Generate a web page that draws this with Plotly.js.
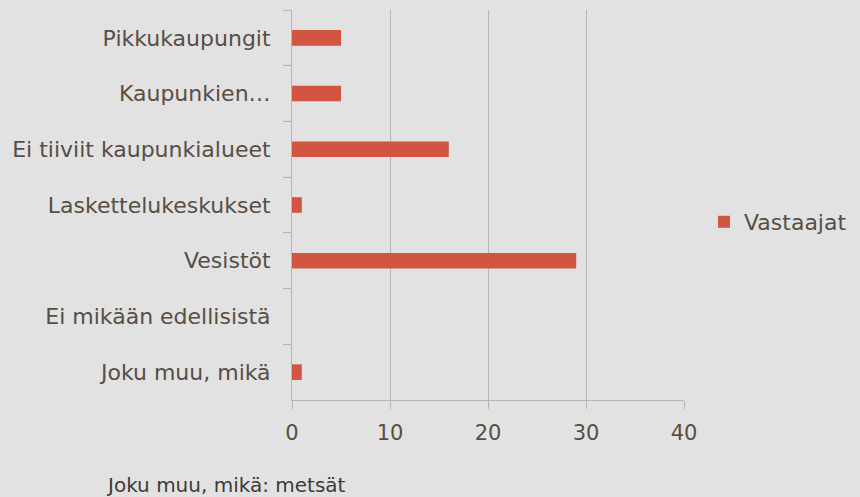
<!DOCTYPE html>
<html>
<head>
<meta charset="utf-8">
<script src="https://cdn.plot.ly/plotly-3.0.1.min.js"></script>
<style>html,body{margin:0;padding:0;background:#e2e2e2;}#chart{width:860px;height:497px;}</style>
</head>
<body>
<div id="chart"></div>
<script>
const categories = ["Pikkukaupungit", "Kaupunkien…", "Ei tiiviit kaupunkialueet", "Laskettelukeskukset", "Vesistöt", "Ei mikään edellisistä", "Joku muu, mikä"];
const vastaajat = [5, 5, 16, 1, 29, 0, 1];
const seriesName = "Vastaajat";
const xTicks = [0, 10, 20, 30, 40];
const note = "Joku muu, mikä: metsät";

const textColor = "#574e45";
const gridColor = "#b5b5b5";

const data = [{
  type: "bar",
  orientation: "h",
  y: categories,
  x: vastaajat,
  name: seriesName,
  marker: {color: "#d15541"},
  showlegend: true,
  hoverinfo: "x+y"
}];

const layout = {
  width: 860, height: 497,
  paper_bgcolor: "#e2e2e2",
  plot_bgcolor: "rgba(0,0,0,0)",
  margin: {l: 292, r: 176, t: 10, b: 97},
  font: {family: "DejaVu Sans, sans-serif", color: textColor, size: 22},
  bargap: 0.72,
  xaxis: {
    range: [0, 40],
    tickvals: xTicks,
    ticktext: xTicks.map(String),
    showgrid: true, gridcolor: gridColor, gridwidth: 1,
    zeroline: false,
    showline: true, linecolor: gridColor, linewidth: 1,
    ticks: "outside", ticklen: 8, tickcolor: gridColor,
    tickfont: {size: 21, color: textColor},
    ticklabelstandoff: 6,
    automargin: false,
    fixedrange: true
  },
  yaxis: {
    type: "category",
    autorange: "reversed",
    showgrid: false,
    zeroline: false,
    showline: true, linecolor: gridColor, linewidth: 1,
    ticks: "outside", ticklen: 8, tickcolor: gridColor,
    tickson: "boundaries",
    tickfont: {size: 22, color: textColor},
    ticklabelstandoff: 16,
    automargin: false,
    fixedrange: true
  },
  legend: {
    xref: "container", yref: "container",
    x: 704 / 860, xanchor: "left", y: (497 - 222) / 497, yanchor: "middle",
    font: {size: 22, color: textColor},
    bgcolor: "rgba(0,0,0,0)",
    itemwidth: 30
  },
  annotations: [{
    text: note,
    xref: "paper", yref: "paper",
    x: (104 - 292) / 392, xanchor: "left",
    y: -0.218, yanchor: "middle",
    showarrow: false,
    font: {size: 20, color: "#3f3a35"}
  }]
};

Plotly.newPlot("chart", data, layout, {displayModeBar: false, staticPlot: true});
</script>
</body>
</html>
